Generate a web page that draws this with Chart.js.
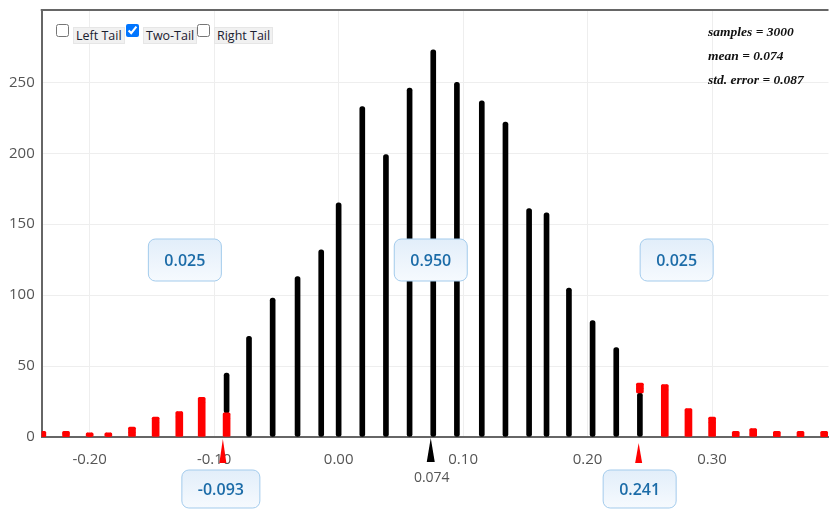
<!DOCTYPE html>
<html>
<head>
<meta charset="utf-8">
<script src="https://cdn.jsdelivr.net/npm/chart.js@4.4.1/dist/chart.umd.min.js"></script>
<style>
  body { margin: 0; background: #fff; }
  #wrap { position: relative; width: 835px; height: 510px; }
  .cb { position: absolute; margin: 0; width: 13px; height: 13px; }
  .lbl { position: absolute; font: 12.5px "Open Sans", sans-serif; color: #1a2030;
         background: #f1f1f1; border: 1px solid #e6e6e6; padding: 0 2px; line-height: 15px; }
</style>
</head>
<body>
<div id="wrap">
  <canvas id="dotChart" width="835" height="510"></canvas>
  <input type="checkbox" class="cb" style="left:56px;top:24px">
  <span class="lbl" style="left:73px;top:27px">Left Tail</span>
  <input type="checkbox" class="cb" style="left:126px;top:24px" checked>
  <span class="lbl" style="left:143px;top:27px">Two-Tail</span>
  <input type="checkbox" class="cb" style="left:197px;top:24px">
  <span class="lbl" style="left:214px;top:27px">Right Tail</span>
</div>
<script>
// bootstrap distribution, dot counts per bin
const binCenters = [-0.238, -0.219, -0.200, -0.185, -0.166, -0.147, -0.128, -0.110, -0.090,
  -0.072, -0.053, -0.033, -0.014, 0.000, 0.019, 0.038, 0.057, 0.076, 0.095, 0.115, 0.134,
  0.153, 0.167, 0.185, 0.204, 0.223, 0.242, 0.262, 0.281, 0.300, 0.319, 0.333, 0.352, 0.371, 0.390];
const dotCounts = [4, 4, 3, 3, 7, 14, 18, 28, 45, 71, 98, 113, 132, 165, 233, 199, 246, 273,
  250, 237, 222, 161, 158, 105, 82, 63, 38, 37, 20, 14, 4, 6, 4, 4, 4];
// dots falling in the tails (red)
const tailDots = [4, 4, 3, 3, 7, 14, 18, 28, 17, 0, 0, 0, 0, 0, 0, 0, 0, 0,
  0, 0, 0, 0, 0, 0, 0, 0, 7, 37, 20, 14, 4, 6, 4, 4, 4];

const xTicks = [-0.2, -0.1, 0, 0.1, 0.2, 0.3];
const yTicks = [0, 50, 100, 150, 200, 250];
const sampleMean = 0.074;
const lowerCut = -0.093;
const upperCut = 0.241;
const tailProps = ["0.025", "0.950", "0.025"];
const statLines = ["samples = 3000", "mean = 0.074", "std. error = 0.087"];

const blackBars = [];
const redBars = [];
const redMarks = [];
binCenters.forEach((x, i) => {
  const n = dotCounts[i], r = tailDots[i];
  if (r === 0) {
    blackBars.push({ x: x, y: [0, n] });
    return;
  }
  let red;
  if (x < sampleMean) {
    red = [0, r];
    if (r < n) blackBars.push({ x: x, y: [r, n] });
  } else {
    red = [n - r, n];
    if (r < n) blackBars.push({ x: x, y: [0, n - r] });
  }
  redBars.push({ x: x, y: red });
  redMarks.push({ x: x, y: red[1] - 2.5 });
});

function roundBox(ctx, cx, cy, w, h, text) {
  const x0 = cx - w / 2, y0 = cy - h / 2;
  const g = ctx.createLinearGradient(0, y0, 0, y0 + h);
  g.addColorStop(0, "#e2eefa");
  g.addColorStop(1, "#f6fafe");
  ctx.beginPath();
  ctx.roundRect(x0, y0, w, h, 7);
  ctx.fillStyle = g;
  ctx.fill();
  ctx.strokeStyle = "#a3cbec";
  ctx.lineWidth = 1;
  ctx.stroke();
  ctx.fillStyle = "#1c6ca8";
  ctx.font = '600 16px "Open Sans"';
  ctx.textAlign = "center";
  ctx.textBaseline = "middle";
  ctx.fillText(text, cx, cy + 1);
}

function triangle(ctx, px, top, bottom, half, color) {
  ctx.beginPath();
  ctx.moveTo(px, top);
  ctx.lineTo(px + half, bottom);
  ctx.lineTo(px - half, bottom);
  ctx.closePath();
  ctx.fillStyle = color;
  ctx.fill();
}

const overlay = {
  id: "overlay",
  afterDraw(chart) {
    const { ctx, chartArea: a, scales: { x } } = chart;
    ctx.save();
    ctx.strokeStyle = "#666";
    ctx.lineWidth = 2;
    ctx.beginPath();
    ctx.moveTo(a.left - 1, a.top);
    ctx.lineTo(a.right, a.top);
    ctx.stroke();

    const pm = x.getPixelForValue(sampleMean);
    const pl = x.getPixelForValue(lowerCut);
    const pu = x.getPixelForValue(upperCut);
    triangle(ctx, pm, a.bottom + 1, a.bottom + 25, 4, "#000");
    triangle(ctx, pl, a.bottom + 2, a.bottom + 26, 3.5, "#f00");
    triangle(ctx, pu, a.bottom + 6, a.bottom + 26, 3.5, "#f00");

    ctx.fillStyle = "#555";
    ctx.font = '14px "Open Sans"';
    ctx.textAlign = "center";
    ctx.textBaseline = "middle";
    ctx.fillText(sampleMean.toFixed(3), pm + 1, a.bottom + 41);

    const by = 260;
    roundBox(ctx, pl - 38, by, 73, 42, tailProps[0]);
    roundBox(ctx, pm, by, 73, 42, tailProps[1]);
    roundBox(ctx, pu + 38, by, 73, 42, tailProps[2]);
    roundBox(ctx, pl - 2, a.bottom + 52, 78, 38, lowerCut.toFixed(3));
    roundBox(ctx, pu + 1, a.bottom + 52, 73, 38, upperCut.toFixed(3));

    ctx.fillStyle = "#111";
    ctx.font = 'italic bold 13.5px "Liberation Serif"';
    ctx.textAlign = "left";
    ctx.textBaseline = "alphabetic";
    statLines.forEach((s, i) => ctx.fillText(s, 708, 36 + i * 24));
    ctx.restore();
  }
};

const tickFont = { family: "Open Sans", size: 15 };

new Chart(document.getElementById("dotChart"), {
  type: "bar",
  data: {
    datasets: [
      {
        data: blackBars,
        backgroundColor: "#000",
        barThickness: 5,
        borderRadius: 2.5,
        borderSkipped: false,
        grouped: false,
        order: 2
      },
      {
        data: redBars,
        backgroundColor: "#f00",
        barThickness: 7,
        borderRadius: 1.5,
        borderSkipped: false,
        grouped: false,
        order: 1
      },
      {
        type: "scatter",
        data: redMarks,
        pointStyle: "crossRot",
        pointRadius: 4,
        borderColor: "#f00",
        borderWidth: 2.5,
        order: 0
      }
    ]
  },
  options: {
    responsive: false,
    animation: false,
    layout: { padding: { top: 0, right: 0, bottom: 27, left: 2 } },
    plugins: { legend: { display: false }, tooltip: { enabled: false } },
    scales: {
      x: {
        type: "linear",
        offset: false,
        min: -0.2385,
        max: 0.3935,
        afterBuildTicks: (s) => { s.ticks = xTicks.map((v) => ({ value: v })); },
        grid: { color: "#eeeeee", drawTicks: false, offset: false },
        border: { color: "#666", width: 2 },
        ticks: { padding: 14, color: "#555", font: tickFont, callback: (v) => v.toFixed(2) }
      },
      y: {
        min: 0,
        max: 301,
        afterBuildTicks: (s) => { s.ticks = yTicks.map((v) => ({ value: v })); },
        afterFit: (s) => { s.paddingTop = 10; },
        grid: { color: "#eeeeee", drawTicks: false },
        border: { color: "#666", width: 2 },
        ticks: { padding: 7, color: "#555", font: tickFont }
      }
    }
  },
  plugins: [overlay]
});
</script>
</body>
</html>
